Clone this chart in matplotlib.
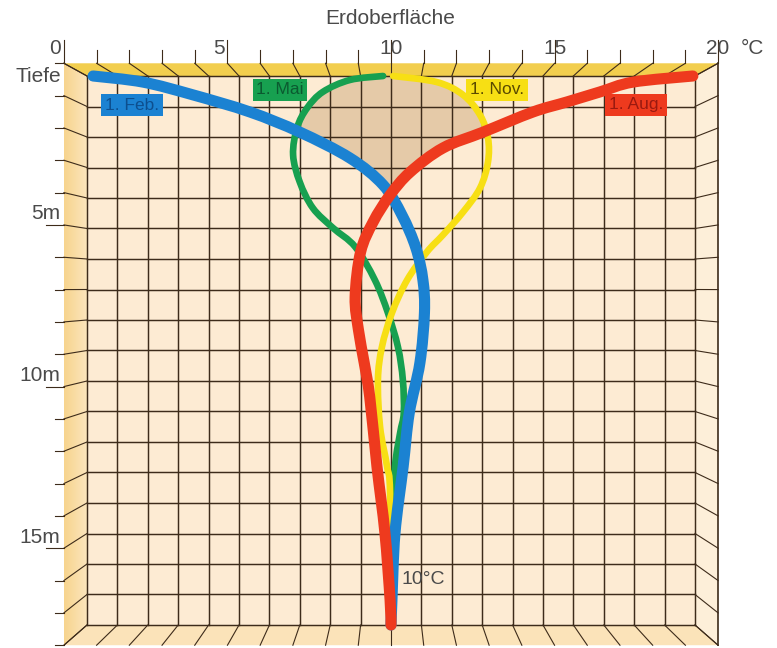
import numpy as np
import matplotlib
matplotlib.use("Agg")
import matplotlib.pyplot as plt
from matplotlib.patches import Polygon, PathPatch
from matplotlib.path import Path

# ---------------- data ----------------
temp_ticks = [0, 5, 10, 15, 20]
depth_ticks = [5, 10, 15]

feb_depth = [0, 0.2, 0.62, 1.18, 1.84, 2.69, 3.57, 4.56, 5.64, 6.69, 7.77, 9.41, 11.05, 12.8, 15.0, 17.2, 18.0]
feb_temp = [0.2, 1.84, 3.49, 5.36, 7.0, 8.65, 9.74, 10.36, 10.82, 11.05, 11.1, 10.95, 10.6, 10.4, 10.13, 10.03, 10.0]

mai_depth = [0, 0.13, 0.52, 1.05, 1.7, 2.59, 3.48, 4.33, 4.98, 5.6, 6.69, 7.77, 8.89, 9.97, 11.05, 11.7, 12.82, 14.9, 18.0]
mai_temp = [9.74, 8.65, 7.76, 7.24, 6.91, 6.78, 7.0, 7.43, 8.09, 8.82, 9.47, 9.9, 10.23, 10.39, 10.42, 10.3, 10.13, 10.03, 10.0]

nov_depth = [0, 0.2, 0.62, 1.28, 2.03, 2.82, 3.67, 4.46, 5.21, 5.77, 6.69, 7.77, 8.89, 9.97, 11.5, 12.8, 13.7, 18.0]
nov_temp = [10.07, 11.51, 12.37, 12.93, 13.19, 13.19, 12.93, 12.37, 11.71, 11.18, 10.53, 10.03, 9.7, 9.57, 9.64, 9.87, 9.97, 10.0]

aug_depth = [0, 0.2, 0.52, 0.85, 1.18, 1.84, 2.36, 3.15, 3.9, 4.79, 5.77, 7.25, 8.33, 9.41, 10.52, 12.82, 14.98, 17.18, 18.0]
aug_temp = [19.93, 17.96, 16.88, 15.79, 14.67, 13.03, 11.71, 10.63, 9.97, 9.41, 9.0, 8.82, 8.93, 9.12, 9.3, 9.54, 9.8, 9.97, 10.0]

labels = ["1. Feb.", "1. Mai", "1. Nov.", "1. Aug."]

# ---------------- layout ----------------
W, H = 777, 648
X0, SX = 87.0, 30.4      # pixel of 0 °C, pixels per °C (back wall)
Y0, SY = 76.0, 30.5      # pixel of 0 m, pixels per m (back wall)
T_MAX, D_MAX = 20, 18
KX, KY, DV = 1.076, 1.06, 6.95   # perspective of front frame


def px(x, y):
    return (x - X0) / SX, (y - Y0) / SY


def ox(t):
    return 10 + KX * (t - 10)


def oy(d):
    return DV + KY * (d - DV)


def smooth_path(xs, ys):
    """Catmull-Rom curve through the given points, as a cubic Bezier path."""
    P = np.column_stack([xs, ys]).astype(float)
    n = len(P)
    verts = [P[0]]
    codes = [Path.MOVETO]
    for i in range(n - 1):
        p0 = P[i - 1] if i > 0 else P[i]
        p1, p2 = P[i], P[i + 1]
        p3 = P[i + 2] if i + 2 < n else P[i + 1]
        c1 = p1 + (p2 - p0) / 6.0
        c2 = p2 - (p3 - p1) / 6.0
        verts += [c1, c2, p2]
        codes += [Path.CURVE4] * 3
    return Path(verts, codes)


plt.rcParams["font.family"] = ["Liberation Sans", "DejaVu Sans"]

fig = plt.figure(figsize=(W / 100, H / 100), dpi=100)
ax = fig.add_axes([0, 0, 1, 1])
ax.axis("off")

back = "#FDEBD3"
right_wall = "#FDEFD9"
floor = "#FBE3B9"
band = "#F2CE4E"
grid_c = "#3D2B1A"

oL, oR, oT, oB = ox(0), ox(T_MAX), oy(0), oy(D_MAX)

ax.add_patch(Polygon([(0, 0), (T_MAX, 0), (T_MAX, D_MAX), (0, D_MAX)], closed=True,
                     facecolor=back, edgecolor="none", zorder=0))
# left wall with a soft gradient (darker at the front edge)
lw_poly = Polygon([(oL, oT), (0, 0), (0, D_MAX), (oL, oB)], closed=True,
                  facecolor="none", edgecolor="none", zorder=0)
ax.add_patch(lw_poly)
grad = np.linspace(0, 1, 64).reshape(1, -1)
c_out = np.array([0xF7, 0xD4, 0x8E]) / 255
c_in = np.array([0xFC, 0xE6, 0xBE]) / 255
img = (c_out[None, None, :] * (1 - grad[..., None]) + c_in[None, None, :] * grad[..., None])
im = ax.imshow(img, extent=(oL, 0, oB, oT), aspect="auto", zorder=0, interpolation="bilinear")
im.set_clip_path(lw_poly)

ax.add_patch(Polygon([(oR, oT), (T_MAX, 0), (T_MAX, D_MAX), (oR, oB)], closed=True,
                     facecolor=right_wall, edgecolor="none", zorder=0))
ax.add_patch(Polygon([(oL, oB), (0, D_MAX), (T_MAX, D_MAX), (oR, oB)], closed=True,
                     facecolor=floor, edgecolor="none", zorder=0))
ax.add_patch(Polygon([(oL, oT), (oR, oT), (T_MAX, 0), (0, 0)], closed=True,
                     facecolor=band, edgecolor="none", zorder=0))
ax.set_xlim(px(0, 0)[0], px(W, 0)[0])
ax.set_ylim(px(0, H)[1], px(0, 0)[1])

# shaded zone between May / Nov above Feb / Aug
dd = np.linspace(0, 4.0, 200)
left = np.maximum(np.interp(dd, mai_depth, mai_temp), np.interp(dd, feb_depth, feb_temp))
right = np.minimum(np.interp(dd, nov_depth, nov_temp), np.interp(dd, aug_depth, aug_temp))
ax.fill_betweenx(dd, left, right, where=left < right, color="#DDBE98", alpha=0.72,
                 linewidth=0, zorder=1)

# back-wall grid and wall connectors
lw = 1.05
for t in range(T_MAX + 1):
    ax.plot([t, t], [0, D_MAX], color=grid_c, lw=lw, zorder=2)
    ax.plot([ox(t), t], [oT, 0], color=grid_c, lw=0.8, zorder=2)
    ax.plot([ox(t), t], [oB, D_MAX], color=grid_c, lw=0.8, zorder=2)
    tick_top = px(0, 40)[1] if t in temp_ticks else px(0, 50)[1]
    ax.plot([ox(t), ox(t)], [tick_top, oT], color=grid_c, lw=0.8, zorder=2)
for d in range(D_MAX + 1):
    ax.plot([0, T_MAX], [d, d], color=grid_c, lw=lw, zorder=2)
    ax.plot([oL, 0], [oy(d), d], color=grid_c, lw=0.8, zorder=2)
    ax.plot([oR, T_MAX], [oy(d), d], color=grid_c, lw=0.8, zorder=2)
    tick_left = px(46, 0)[0] if d in depth_ticks else px(55, 0)[0]
    ax.plot([tick_left, oL], [oy(d), oy(d)], color=grid_c, lw=0.8, zorder=2)
ax.plot([oR, oR], [oT, oB], color=grid_c, lw=1.2, zorder=2)

# curves
for xs, ys, col, w, z in [
    (mai_temp, mai_depth, "#17A050", 4.8, 3),
    (nov_temp, nov_depth, "#F7DF14", 4.8, 3),
    (feb_temp, feb_depth, "#1B82D2", 8.0, 4),
    (aug_temp, aug_depth, "#EE3A1E", 8.0, 5),
]:
    ax.add_patch(PathPatch(smooth_path(xs, ys), facecolor="none", edgecolor=col, lw=w,
                           capstyle="round", joinstyle="round", zorder=z))

# labels on boxes
box_specs = [
    (labels[0], px(132, 105), "#1B82D2", "#0D4F8F"),
    (labels[1], px(280, 90), "#17A050", "#0B5A30"),
    (labels[2], px(497, 90), "#F7DF14", "#5A4A00"),
    (labels[3], px(636, 105), "#EE3A1E", "#9A1A10"),
]
for txt, (x, y), fc, tc in box_specs:
    ax.text(x, y, txt, ha="center", va="center", fontsize=12.5, color=tc, zorder=6,
            bbox=dict(boxstyle="square,pad=0.2", facecolor=fc, edgecolor="none"))

# axis texts
txt_c = "#4A4A4A"
ax.text(*px(390, 19), "Erdoberfläche", ha="center", va="center", fontsize=15, color=txt_c)
for t in temp_ticks:
    lab = str(t)
    if t < 10:
        ax.text(ox(t) - 3 / SX, px(0, 49)[1], lab, ha="right", va="center",
                fontsize=15, color=txt_c)
    else:
        ax.text(ox(t), px(0, 49)[1], lab, ha="center", va="center", fontsize=15,
                color=txt_c)
ax.text(*px(752, 49), "°C", ha="center", va="center", fontsize=15, color=txt_c)
ax.text(*px(38, 76), "Tiefe", ha="center", va="center", fontsize=15, color=txt_c)
for d in depth_ticks:
    ax.text(px(60, 0)[0], oy(d) - 0.05, f"{d}m", ha="right", va="bottom", fontsize=15,
            color=txt_c)
ax.text(*px(402, 580), "10°C", ha="left", va="center", fontsize=14, color=txt_c, zorder=6)

fig.savefig("out.png", dpi=100, facecolor="white")
